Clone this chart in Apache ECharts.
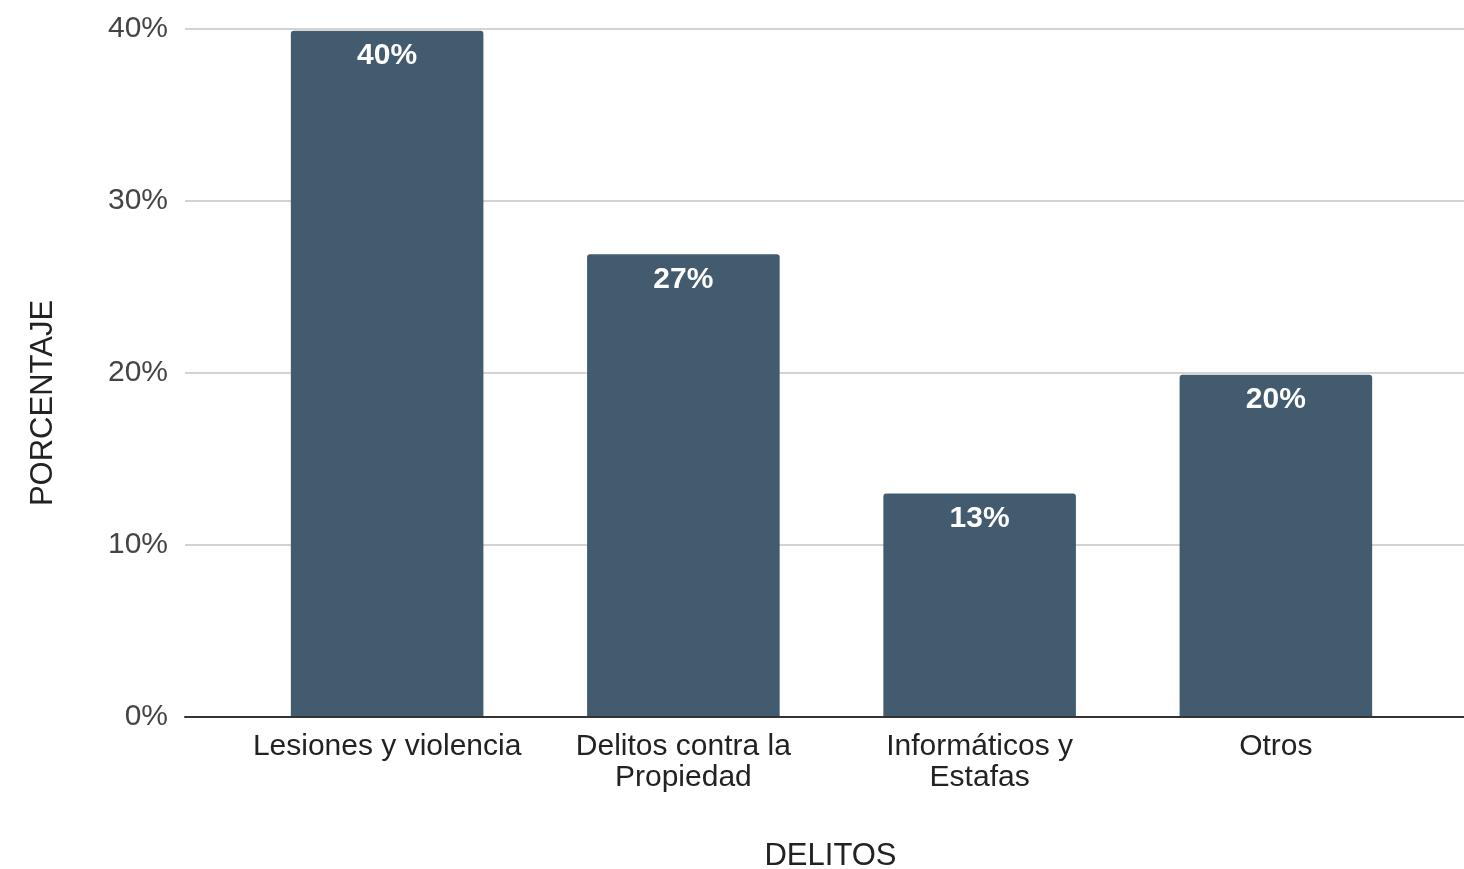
<!DOCTYPE html>
<html>
<head>
<meta charset="utf-8">
<script src="https://cdn.jsdelivr.net/npm/echarts@6/dist/echarts.min.js"></script>
<style>
    html, body { margin: 0; padding: 0; background: #fff; }
    #delitosChart { width: 1464px; height: 869px; }
</style>
</head>
<body>
<div id="delitosChart"></div>
<script>
    // datos
    var categorias = ['Lesiones y violencia', 'Delitos contra la\nPropiedad', 'Informáticos y\nEstafas', 'Otros'];
    var porcentajes = [39.9, 26.9, 13.0, 19.9];
    var ticksY = [0, 10, 20, 30, 40];

    var chart = echarts.init(document.getElementById('delitosChart'));
    var fuente = '"Liberation Sans", Arial, sans-serif';

    var option = {
        animation: false,
        textStyle: { fontFamily: fuente },
        grid: [
            // grid de fondo: lineas y eje
            { left: 185, right: 0, top: 29, bottom: 152, outerBoundsMode: 'none', containLabel: false },
            // grid de las barras
            { left: 239, right: 40, top: 29, bottom: 152, outerBoundsMode: 'none', containLabel: false }
        ],
        xAxis: [{
            gridIndex: 0,
            type: 'value',
            min: 0,
            max: 1,
            z: 3,
            axisLine: { show: true, lineStyle: { color: '#333', width: 2 } },
            axisTick: { show: false },
            axisLabel: { show: false },
            splitLine: { show: false },
            name: 'DELITOS',
            nameLocation: 'middle',
            nameGap: 124,
            nameTextStyle: { fontSize: 31, color: '#222', fontFamily: fuente, padding: [0, 0, 0, 12] }
        }, {
            gridIndex: 1,
            type: 'category',
            data: categorias,
            axisLine: { show: false },
            axisTick: { show: false },
            axisLabel: {
                fontSize: 30,
                color: '#222',
                lineHeight: 31,
                margin: 14,
                interval: 0,
                fontFamily: fuente
            }
        }],
        yAxis: [{
            gridIndex: 0,
            type: 'value',
            min: ticksY[0],
            max: ticksY[ticksY.length - 1],
            interval: 10,
            axisLine: { show: false },
            axisTick: { show: false },
            axisLabel: {
                formatter: '{value}%',
                fontSize: 30,
                color: '#444',
                margin: 17,
                fontFamily: fuente
            },
            splitLine: { lineStyle: { color: '#d3d3d3', width: 2 } }
        }, {
            gridIndex: 1,
            type: 'value',
            min: ticksY[0],
            max: ticksY[ticksY.length - 1],
            show: false
        }],
        graphic: [{
            type: 'text',
            x: 43,
            y: 403,
            rotation: Math.PI / 2,
            style: {
                text: 'PORCENTAJE',
                fontSize: 31,
                fill: '#222',
                fontFamily: fuente,
                align: 'center',
                verticalAlign: 'middle'
            }
        }],
        series: [{
            type: 'bar',
            xAxisIndex: 1,
            yAxisIndex: 1,
            data: porcentajes,
            barWidth: '65%',
            itemStyle: { color: '#425b6f', borderRadius: [3, 3, 0, 0] },
            label: {
                show: true,
                position: 'insideTop',
                distance: 10,
                color: '#fff',
                fontWeight: 'bold',
                fontSize: 30,
                fontFamily: fuente,
                formatter: function (p) { return Math.round(p.value) + '%'; }
            }
        }]
    };
    chart.setOption(option);
    window.addEventListener('resize', function () {
        chart.resize();
    });
</script>
</body>
</html>
